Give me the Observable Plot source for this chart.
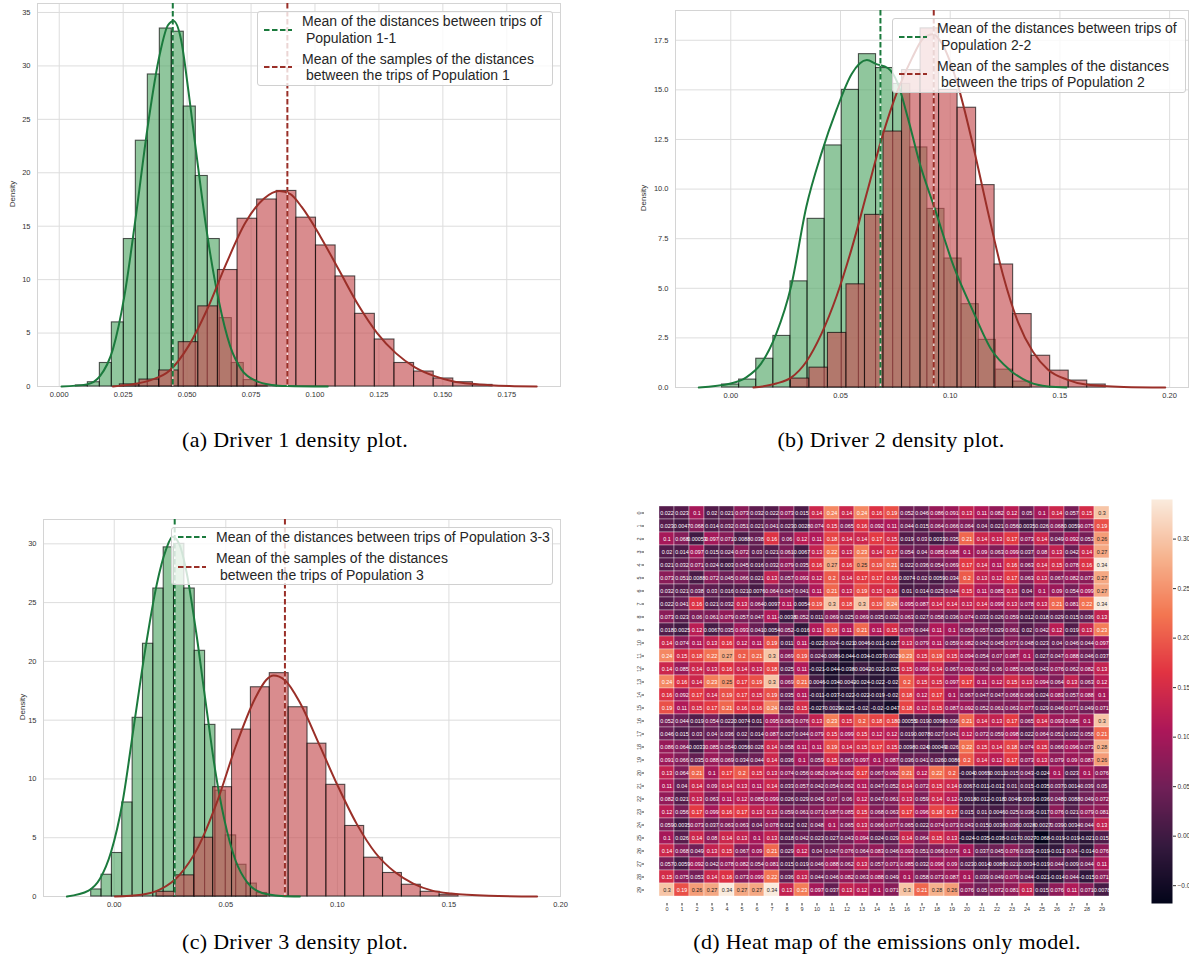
<!DOCTYPE html>
<html>
<head>
<meta charset="utf-8">
<script src="https://cdn.jsdelivr.net/npm/d3@7"></script>
<script src="https://cdn.jsdelivr.net/npm/@observablehq/plot@0.6"></script>
<style>
  html, body { margin: 0; padding: 0; background: #fff; }
  #figure { position: relative; width: 1189px; height: 970px; overflow: hidden; background: #fff;
            font-family: "Liberation Sans", Arial, sans-serif; }
  .panel { position: absolute; }
  .panel svg { display: block; overflow: visible; }
  .ylabel { position: absolute; font-size: 8px; color: #333; white-space: nowrap;
            transform: translate(-50%, -50%) rotate(-90deg); }
  .legend { position: absolute; box-sizing: border-box; background: rgba(255,255,255,0.8);
            border: 1px solid #d0d0d0; border-radius: 3px; padding: 1px 6px 1px 6px;
            font-size: 14px; color: #262626; line-height: 16.5px; }
  .entry { display: flex; align-items: center; }
  .entry + .entry { margin-top: 4.5px; }
  .entry svg { flex: none; margin-right: 10px; }
  .entry span { white-space: pre; }
  .caption { position: absolute; transform: translate(-50%, -50%); white-space: nowrap; color: #000;
             font-family: "Liberation Serif", "Times New Roman", serif; font-size: 22px; letter-spacing: 0.3px; }
</style>
</head>
<body>
<div id="figure"></div>
<script>
// ---------------- Driver 1 ----------------
const d1PopStart = 0.0065, d1PopWidth = 0.00469;
const d1PopDensity = [0.1, 0.4, 2.2, 6.0, 13.8, 23.0, 29.2, 33.5, 33.2, 26.2, 19.7, 13.8, 6.4, 2.2, 0.6, 0.1];
const d1PopKde = [[0.0009,0],[0.0108,0.2],[0.016,1.0],[0.021,3.5],[0.0255,8.5],[0.030,16],[0.0344,24],[0.0388,30.5],
  [0.0425,33.8],[0.0447,34.2],[0.0476,32.5],[0.0506,27.5],[0.0535,22],[0.058,14],[0.0624,8],[0.0668,3.8],
  [0.0712,1.6],[0.0771,0.5],[0.083,0.15],[0.089,0.05],[0.105,0]];
const d1PopMean = 0.0444;
const d1SampleStart = 0.0237, d1SampleWidth = 0.00767;
const d1SampleDensity = [0.2, 0.65, 1.5, 4.15, 7.5, 10.9, 15.7, 17.5, 18.3, 15.8, 13.2, 10.3, 6.8, 4.4, 2.2, 1.4, 0.75, 0.4, 0.15];
const d1SampleKde = [[0.021,0],[0.0285,0.2],[0.0358,0.6],[0.0432,1.5],[0.0506,3.8],[0.058,7.3],[0.0653,11.5],
  [0.0727,15.3],[0.0801,17.6],[0.086,18.3],[0.0904,18.0],[0.0948,16.8],[0.1022,14.0],[0.1096,10.8],[0.117,7.6],
  [0.1243,5.0],[0.1317,3.1],[0.1391,1.8],[0.1465,1.0],[0.1538,0.5],[0.1612,0.25],[0.1686,0.12],[0.176,0.05],[0.1867,0.01]];
const d1SampleMean = 0.0892;
const d1XTicks = [0, 0.025, 0.05, 0.075, 0.1, 0.125, 0.15, 0.175];
const d1YTicks = [0, 5, 10, 15, 20, 25, 30, 35];
const d1Legend = [["Mean of the distances between trips of", " Population 1-1"],
                  ["Mean of the samples of the distances", " between the trips of Population 1"]];

// ---------------- Driver 2 ----------------
const d2PopStart = -0.004, d2PopWidth = 0.0078;
const d2PopDensity = [0.15, 0.4, 1.45, 2.6, 5.35, 8.5, 12.2, 15.0, 16.8, 16.1, 15.3, 12.1, 9.0, 6.5, 4.2, 2.4, 0.9, 0.3];
const d2PopKde = [[-0.0146,0],[0,0.2],[0.0069,0.5],[0.0138,1.2],[0.0207,2.7],[0.0275,5.1],[0.0344,9.1],[0.0413,11.8],
  [0.0482,14.0],[0.0551,15.8],[0.062,16.5],[0.0663,16.3],[0.0715,16.1],[0.0758,15.4],[0.0809,13.5],[0.0861,11.3],
  [0.093,9.0],[0.1016,6.1],[0.1102,3.9],[0.1188,1.9],[0.1274,0.86],[0.136,0.27],[0.1446,0.05],[0.153,0]];
const d2PopMean = 0.0682;
const d2SampleStart = 0.0274, d2SampleWidth = 0.00844;
const d2SampleDensity = [0.45, 1.0, 2.75, 5.2, 8.7, 12.9, 16.0, 18.1, 15.0, 14.1, 10.2, 6.2, 3.7, 1.6, 0.85, 0.35, 0.15];
const d2SampleKde = [[0.0103,0],[0.0207,0.2],[0.0275,0.5],[0.0344,1.3],[0.0413,2.7],[0.0482,4.6],[0.0551,7.0],
  [0.062,9.8],[0.0689,12.6],[0.0758,14.9],[0.0826,16.6],[0.0878,17.6],[0.0921,17.8],[0.0964,17.3],[0.1033,15.3],
  [0.1102,12.3],[0.1171,8.9],[0.124,5.7],[0.1309,3.3],[0.1377,1.8],[0.1446,0.9],[0.1532,0.4],[0.1618,0.15],[0.1791,0.03],[0.198,0]];
const d2SampleMean = 0.0925;
const d2XTicks = [0, 0.05, 0.1, 0.15, 0.2];
const d2YTicks = [0, 2.5, 5, 7.5, 10, 12.5, 15, 17.5];
const d2Legend = [["Mean of the distances between trips of", " Population 2-2"],
                  ["Mean of the samples of the distances", " between the trips of Population 2"]];

// ---------------- Driver 3 ----------------
const d3PopStart = -0.01032, d3PopWidth = 0.00464;
const d3PopDensity = [0.6, 1.85, 3.7, 8.0, 15.2, 21.5, 26.2, 29.7, 30.0, 26.2, 20.9, 14.6, 9.0, 5.2, 2.7, 1.1, 0.3];
const d3PopKde = [[-0.0212,0],[-0.0115,0.5],[-0.0064,1.5],[-0.0014,3.8],[0.0037,8.0],[0.0088,14.5],[0.0139,21.0],
  [0.019,26.5],[0.0232,29.5],[0.0261,30.6],[0.0291,30.0],[0.0325,27.5],[0.0367,22.5],[0.041,16.5],[0.0452,10.8],
  [0.0494,6.5],[0.0545,3.0],[0.0596,1.2],[0.0663,0.3],[0.0748,0.05],[0.0832,0]];
const d3PopMean = 0.0271;
const d3SampleStart = 0.01895, d3SampleWidth = 0.00846;
const d3SampleDensity = [0.4, 1.8, 5.0, 9.3, 14.2, 17.8, 19.0, 16.1, 13.0, 9.5, 6.0, 3.3, 2.0, 1.0, 0.4, 0.15];
const d3SampleKde = [[0.0003,0],[0.0122,0.15],[0.0206,0.6],[0.0291,1.8],[0.0376,4.2],[0.046,8.0],[0.0545,12.8],
  [0.063,16.8],[0.068,18.4],[0.0714,18.8],[0.0765,18.4],[0.0832,16.5],[0.0917,13.0],[0.1002,9.4],[0.1086,6.2],
  [0.1171,3.7],[0.1256,2.1],[0.134,1.1],[0.1425,0.5],[0.151,0.25],[0.1679,0.06],[0.1895,0]];
const d3SampleMean = 0.0765;
const d3XTicks = [0, 0.05, 0.1, 0.15, 0.2];
const d3YTicks = [0, 5, 10, 15, 20, 25, 30];
const d3Legend = [["Mean of the distances between trips of Population 3-3"],
                  ["Mean of the samples of the distances", " between the trips of Population 3"]];

// ---------------- Emissions-only model heat map ----------------
const heatIndex = [0,1,2,3,4,5,6,7,8,9,10,11,12,13,14,15,16,17,18,19,20,21,22,23,24,25,26,27,28,29];
const heatValues = [
  [0.022,0.023,0.1,0.02,0.021,0.073,0.032,0.022,0.073,0.015,0.14,0.24,0.14,0.24,0.16,0.19,0.052,0.046,0.086,0.091,0.13,0.11,0.082,0.12,0.05,0.1,0.14,0.057,0.15,0.3],
  [0.023,0.0047,0.068,0.014,0.032,0.051,0.021,0.041,0.023,0.0028,0.074,0.15,0.065,0.16,0.092,0.11,0.044,0.015,0.064,0.066,0.064,0.04,0.021,0.056,0.0035,0.026,0.068,0.0059,0.075,0.19],
  [0.1,0.068,0.00053,0.097,0.071,0.0088,0.038,0.16,0.06,0.12,0.11,0.18,0.14,0.14,0.17,0.15,0.019,0.03,0.0033,0.035,0.21,0.14,0.13,0.17,0.073,0.14,0.049,0.092,0.053,0.26],
  [0.02,0.014,0.097,0.015,0.024,0.072,0.03,0.021,0.061,0.0067,0.13,0.22,0.13,0.23,0.14,0.17,0.054,0.04,0.085,0.088,0.1,0.09,0.063,0.099,0.037,0.08,0.13,0.042,0.14,0.27],
  [0.021,0.032,0.071,0.024,0.003,0.045,0.016,0.032,0.079,0.035,0.16,0.27,0.16,0.25,0.19,0.21,0.022,0.036,0.054,0.069,0.17,0.14,0.11,0.16,0.063,0.14,0.15,0.078,0.16,0.34],
  [0.073,0.051,0.0088,0.072,0.045,0.066,0.021,0.13,0.057,0.093,0.12,0.2,0.14,0.17,0.17,0.16,0.0074,0.02,0.0059,0.034,0.2,0.13,0.12,0.17,0.063,0.13,0.067,0.082,0.073,0.27],
  [0.032,0.021,0.038,0.03,0.016,0.021,0.0076,0.064,0.047,0.041,0.11,0.21,0.13,0.19,0.15,0.16,0.01,0.014,0.025,0.044,0.15,0.11,0.085,0.13,0.04,0.1,0.09,0.054,0.099,0.27],
  [0.022,0.041,0.16,0.021,0.032,0.13,0.064,0.0097,0.11,0.0054,0.19,0.3,0.18,0.3,0.19,0.24,0.095,0.087,0.14,0.14,0.13,0.14,0.099,0.13,0.078,0.13,0.21,0.081,0.22,0.34],
  [0.073,0.023,0.06,0.061,0.079,0.057,0.047,0.11,-0.0038,0.052,0.011,0.069,0.025,0.069,0.035,0.032,0.063,0.027,0.058,0.036,0.074,0.033,0.026,0.059,0.012,0.018,0.029,0.015,0.036,0.13],
  [0.018,0.0025,0.12,0.0067,0.035,0.093,0.041,0.0054,0.052,-0.016,0.11,0.19,0.11,0.21,0.11,0.15,0.076,0.044,0.11,0.1,0.056,0.057,0.029,0.061,0.02,0.042,0.12,0.019,0.13,0.23],
  [0.14,0.074,0.11,0.13,0.16,0.12,0.11,0.19,0.011,0.11,-0.022,0.024,-0.021,0.0046,-0.011,-0.027,0.13,0.079,0.11,0.059,0.082,0.042,0.045,0.071,0.048,0.023,0.04,0.046,0.044,0.097],
  [0.24,0.15,0.18,0.22,0.27,0.2,0.21,0.3,0.069,0.19,0.024,0.0086,-0.044,-0.034,-0.037,-0.0029,0.23,0.15,0.19,0.15,0.094,0.054,0.07,0.087,0.1,0.027,0.047,0.088,0.046,0.037],
  [0.14,0.085,0.14,0.13,0.16,0.14,0.13,0.18,0.025,0.11,-0.021,-0.044,-0.038,-0.0042,-0.022,-0.025,0.15,0.099,0.14,0.067,0.092,0.062,0.06,0.085,0.065,0.043,0.076,0.062,0.082,0.13],
  [0.24,0.16,0.14,0.23,0.25,0.17,0.19,0.3,0.069,0.21,0.0046,-0.034,-0.0042,-0.024,-0.022,-0.02,0.2,0.15,0.15,0.097,0.17,0.11,0.12,0.15,0.13,0.094,0.064,0.13,0.063,0.12],
  [0.16,0.092,0.17,0.14,0.19,0.17,0.15,0.19,0.035,0.11,-0.011,-0.037,-0.022,-0.022,-0.019,-0.02,0.18,0.12,0.17,0.1,0.067,0.047,0.047,0.068,0.066,0.024,0.083,0.057,0.088,0.1],
  [0.19,0.11,0.15,0.17,0.21,0.16,0.16,0.24,0.032,0.15,-0.027,-0.0029,-0.025,-0.02,-0.02,-0.047,0.18,0.12,0.15,0.087,0.092,0.052,0.061,0.063,0.077,0.029,0.046,0.071,0.049,0.071],
  [0.052,0.044,0.019,0.054,0.022,0.0074,0.01,0.095,0.063,0.076,0.13,0.23,0.15,0.2,0.18,0.18,0.00055,0.019,0.0098,0.036,0.21,0.14,0.13,0.17,0.065,0.14,0.093,0.085,0.1,0.3],
  [0.046,0.015,0.03,0.04,0.036,0.02,0.014,0.087,0.027,0.044,0.079,0.15,0.099,0.15,0.12,0.12,0.019,0.0078,0.027,0.041,0.12,0.072,0.059,0.098,0.022,0.064,0.051,0.032,0.058,0.21],
  [0.086,0.064,0.0033,0.085,0.054,0.0056,0.028,0.14,0.058,0.11,0.11,0.19,0.14,0.15,0.17,0.15,0.0098,0.024,0.00049,0.026,0.22,0.15,0.14,0.18,0.074,0.15,0.066,0.096,0.073,0.28],
  [0.091,0.066,0.035,0.088,0.069,0.034,0.044,0.14,0.036,0.1,0.059,0.15,0.067,0.097,0.1,0.087,0.036,0.041,0.026,0.0086,0.2,0.14,0.12,0.17,0.073,0.13,0.079,0.09,0.087,0.26],
  [0.13,0.064,0.21,0.1,0.17,0.2,0.15,0.13,0.074,0.056,0.082,0.094,0.092,0.17,0.067,0.092,0.21,0.12,0.22,0.2,-0.004,0.0065,-0.0011,0.015,0.043,-0.024,0.1,0.023,0.1,0.076],
  [0.11,0.04,0.14,0.09,0.14,0.13,0.11,0.14,0.033,0.057,0.042,0.054,0.062,0.11,0.047,0.052,0.14,0.072,0.15,0.14,0.0067,-0.011,-0.012,0.01,0.015,-0.035,0.037,0.0014,0.039,0.05],
  [0.082,0.021,0.13,0.063,0.11,0.12,0.085,0.099,0.026,0.029,0.045,0.07,0.06,0.12,0.047,0.061,0.13,0.059,0.14,0.12,-0.0018,-0.012,-0.018,0.0046,0.0036,-0.036,0.048,0.0088,0.049,0.072],
  [0.12,0.056,0.17,0.099,0.16,0.17,0.13,0.13,0.059,0.061,0.071,0.087,0.085,0.15,0.068,0.063,0.17,0.096,0.18,0.17,0.015,0.01,0.0046,0.025,0.036,-0.017,0.076,0.021,0.079,0.081],
  [0.059,0.0035,0.073,0.037,0.063,0.063,0.04,0.078,0.012,0.02,0.048,0.1,0.065,0.13,0.066,0.077,0.065,0.022,0.074,0.073,0.043,0.015,0.0038,0.036,0.0028,-0.0027,0.039,0.0034,0.044,0.13],
  [0.1,0.026,0.14,0.08,0.14,0.13,0.1,0.13,0.018,0.042,0.023,0.027,0.043,0.094,0.024,0.029,0.14,0.064,0.15,0.13,-0.024,-0.035,-0.038,-0.017,-0.0027,-0.068,-0.019,-0.019,-0.021,0.015],
  [0.14,0.068,0.049,0.13,0.15,0.067,0.09,0.21,0.029,0.12,0.04,0.047,0.076,0.064,0.083,0.046,0.093,0.051,0.066,0.079,0.1,0.037,0.045,0.076,0.039,-0.019,-0.013,0.04,-0.014,0.076],
  [0.057,0.0059,0.092,0.042,0.078,0.082,0.054,0.081,0.015,0.019,0.046,0.088,0.062,0.13,0.057,0.071,0.085,0.032,0.096,0.09,0.023,0.0014,0.0088,0.021,0.0034,-0.019,0.044,0.009,0.044,0.11],
  [0.15,0.075,0.053,0.14,0.16,0.073,0.099,0.22,0.036,0.13,0.044,0.046,0.082,0.063,0.088,0.049,0.1,0.058,0.073,0.087,0.1,0.039,0.049,0.079,0.044,-0.021,-0.014,0.044,-0.015,0.071],
  [0.3,0.19,0.26,0.27,0.34,0.27,0.27,0.34,0.13,0.23,0.097,0.037,0.13,0.12,0.1,0.071,0.3,0.21,0.28,0.26,0.076,0.05,0.072,0.081,0.13,0.015,0.076,0.11,0.071,0.0078]
];
const colorbarTicks = [-0.05, 0, 0.05, 0.1, 0.15, 0.2, 0.25, 0.3];

const captions = ["(a) Driver 1 density plot.", "(b) Driver 2 density plot.",
                  "(c) Driver 3 density plot.", "(d) Heat map of the emissions only model."];

// ---------------- styling ----------------
const sans = "'Liberation Sans', Arial, sans-serif";
const popFill = "#55a868", sampleFill = "#c44e52";
const popLine = "#1b7a3d", sampleLine = "#9a2f28";
const rocketStops = ["#03051a", "#35193e", "#701f57", "#ad1759", "#e13342", "#f37651", "#f6b48f", "#faebdd"];

const figure = document.getElementById("figure");

function place(node, left, top) {
  const wrap = document.createElement("div");
  wrap.className = "panel";
  wrap.style.left = left + "px";
  wrap.style.top = top + "px";
  wrap.appendChild(node);
  figure.appendChild(wrap);
}

function binRects(start, width, heights) {
  return heights.map((h, i) => ({x1: start + i * width, x2: start + (i + 1) * width, density: h}));
}

function densityPlot(cfg) {
  const pop = binRects(cfg.pop.start, cfg.pop.width, cfg.pop.density);
  const sample = binRects(cfg.sample.start, cfg.sample.width, cfg.sample.density);
  const bar = {x1: "x1", x2: "x2", y: "density", fillOpacity: 0.65, stroke: "#000",
               strokeOpacity: 0.65, strokeWidth: 1.1, inset: 0};
  const kde = {x: d => d[0], y: d => d[1], strokeWidth: 2, curve: "monotone-x"};
  const mean = {strokeWidth: 2, strokeDasharray: "5.5,2.5"};
  const underlay = {stroke: "#ffffff", strokeOpacity: 0.75, strokeWidth: 1.2};
  return Plot.plot({
    width: cfg.width, height: cfg.height,
    marginTop: cfg.margin[0], marginRight: cfg.margin[1], marginBottom: cfg.margin[2], marginLeft: cfg.margin[3],
    style: {background: "transparent", fontFamily: sans, fontSize: "7.5px", color: "#333"},
    x: {domain: cfg.xDomain, label: null},
    y: {domain: cfg.yDomain, label: null},
    marks: [
      Plot.gridX(cfg.xTicks, {stroke: "#dddddd", strokeOpacity: 1, strokeWidth: 1}),
      Plot.gridY(cfg.yTicks, {stroke: "#dddddd", strokeOpacity: 1, strokeWidth: 1}),
      Plot.axisX(cfg.xTicks, {tickSize: 0, tickPadding: 5, tickFormat: cfg.xFormat, label: null}),
      Plot.axisY(cfg.yTicks, {tickSize: 0, tickPadding: 7, tickFormat: cfg.yFormat, label: null}),
      Plot.frame({stroke: "#d4d4d4", strokeWidth: 1}),
      Plot.rectY(pop, {...bar, fill: popFill}),
      Plot.rectY(sample, {...bar, fill: sampleFill}),
      Plot.line(cfg.pop.kde, {...kde, stroke: popLine}),
      Plot.line(cfg.sample.kde, {...kde, stroke: sampleLine}),
      Plot.ruleX([cfg.pop.mean, cfg.sample.mean], underlay),
      Plot.ruleX([cfg.pop.mean], {...mean, stroke: popLine}),
      Plot.ruleX([cfg.sample.mean], {...mean, stroke: sampleLine})
    ]
  });
}

function addLegend(left, top, width, entries) {
  const box = document.createElement("div");
  box.className = "legend";
  box.style.left = left + "px";
  box.style.top = top + "px";
  box.style.width = width + "px";
  const colors = [popLine, sampleLine];
  entries.forEach((lines, i) => {
    const row = document.createElement("div");
    row.className = "entry";
    row.innerHTML = `<svg width="28" height="6"><line x1="0" y1="3" x2="28" y2="3" stroke="${colors[i]}"
      stroke-width="2" stroke-dasharray="5.5,2.5"/></svg>`;
    const span = document.createElement("span");
    span.textContent = lines.join("\n");
    row.appendChild(span);
    box.appendChild(row);
  });
  figure.appendChild(box);
}

function addText(cls, text, x, y) {
  const el = document.createElement("div");
  el.className = cls;
  el.textContent = text;
  el.style.left = x + "px";
  el.style.top = y + "px";
  figure.appendChild(el);
}

// Panel (a)
place(densityPlot({
  width: 590, height: 410, margin: [3, 30, 24, 37],
  xDomain: [-0.0085, 0.196], yDomain: [0, 35.84], xTicks: d1XTicks, yTicks: d1YTicks,
  xFormat: d3.format(".3f"), yFormat: d3.format("d"),
  pop: {start: d1PopStart, width: d1PopWidth, density: d1PopDensity, kde: d1PopKde, mean: d1PopMean},
  sample: {start: d1SampleStart, width: d1SampleWidth, density: d1SampleDensity, kde: d1SampleKde, mean: d1SampleMean}
}), 0, 0);
addLegend(257, 11, 296, d1Legend);
addText("ylabel", "Density", 12, 194);

// Panel (b)
place(densityPlot({
  width: 594, height: 410, margin: [10, 1, 23, 80],
  xDomain: [-0.0252, 0.2086], yDomain: [0, 19.0], xTicks: d2XTicks, yTicks: d2YTicks,
  xFormat: d3.format(".2f"), yFormat: d3.format(".1f"),
  pop: {start: d2PopStart, width: d2PopWidth, density: d2PopDensity, kde: d2PopKde, mean: d2PopMean},
  sample: {start: d2SampleStart, width: d2SampleWidth, density: d2SampleDensity, kde: d2SampleKde, mean: d2SampleMean}
}), 595, 0);
addLegend(892, 18, 294, d2Legend);
addText("ylabel", "Density", 643, 198);

// Panel (c)
place(densityPlot({
  width: 590, height: 410, margin: [9, 30, 24, 43],
  xDomain: [-0.0317, 0.2], yDomain: [0, 32.07], xTicks: d3XTicks, yTicks: d3YTicks,
  xFormat: d3.format(".2f"), yFormat: d3.format("d"),
  pop: {start: d3PopStart, width: d3PopWidth, density: d3PopDensity, kde: d3PopKde, mean: d3PopMean},
  sample: {start: d3SampleStart, width: d3SampleWidth, density: d3SampleDensity, kde: d3SampleKde, mean: d3SampleMean}
}), 0, 510);
addLegend(171, 527, 382, d3Legend);
addText("ylabel", "Density", 22, 707);

// Panel (d): heat map with the colour range spanning the data extent
const allValues = heatValues.flat();
const vmin = d3.min(allValues), vmax = d3.max(allValues);
const rocketDomain = rocketStops.map((_, i) => vmin + (vmax - vmin) * i / (rocketStops.length - 1));
const colorScale = {type: "linear", domain: rocketDomain, range: rocketStops, interpolate: "rgb"};
const rocket = d3.scaleLinear().domain(rocketDomain).range(rocketStops).interpolate(d3.interpolateRgb);

function luminance(c) {
  const {r, g, b} = d3.rgb(c);
  const f = v => { v /= 255; return v <= 0.03928 ? v / 12.92 : Math.pow((v + 0.055) / 1.055, 2.4); };
  return 0.2126 * f(r) + 0.7152 * f(g) + 0.0722 * f(b);
}
const annotColor = v => luminance(rocket(v)) > 0.408 ? "#262626" : "#ffffff";
const annotText = v => String(+v.toPrecision(2));

const cells = heatValues.flatMap((row, i) => row.map((v, j) => ({row: heatIndex[i], col: heatIndex[j], value: v})));

place(Plot.plot({
  width: 500, height: 430, marginLeft: 14, marginTop: 9, marginRight: 7, marginBottom: 17,
  style: {background: "transparent", fontFamily: sans, fontSize: "5.5px", color: "#333"},
  x: {type: "band", domain: heatIndex, padding: 0, tickSize: 2.5, tickPadding: 1.5, label: null},
  y: {type: "band", domain: heatIndex, padding: 0, tickSize: 2.5, tickPadding: 1.5, tickRotate: -90, label: null},
  color: colorScale,
  marks: [
    Plot.cell(cells, {x: "col", y: "row", fill: "value", stroke: "#ffffff", strokeOpacity: 0.7, strokeWidth: 0.5, inset: 0}),
    Plot.text(cells, {x: "col", y: "row", text: d => annotText(d.value), fill: d => annotColor(d.value),
                      fontSize: 5.4, fontFamily: sans})
  ]
}), 630, 490);

// colour bar
place(Plot.plot({
  width: 49, height: 430, marginLeft: 11, marginRight: 17, marginTop: 9, marginBottom: 17,
  style: {background: "transparent", fontFamily: sans, fontSize: "6.5px", color: "#333"},
  x: {domain: [0, 1], axis: null},
  y: {domain: [vmin, vmax], axis: "right", ticks: colorbarTicks, tickFormat: d3.format(".2f"),
      tickSize: 3, tickPadding: 2, label: null},
  color: colorScale,
  marks: [
    Plot.raster({x1: 0, x2: 1, y1: vmin, y2: vmax, width: 1, height: 404, fill: (x, y) => y})
  ]
}), 1140, 490);

// captions
addText("caption", captions[0], 295, 440);
addText("caption", captions[1], 891, 440);
addText("caption", captions[2], 295, 942);
addText("caption", captions[3], 887, 942);
</script>
</body>
</html>
